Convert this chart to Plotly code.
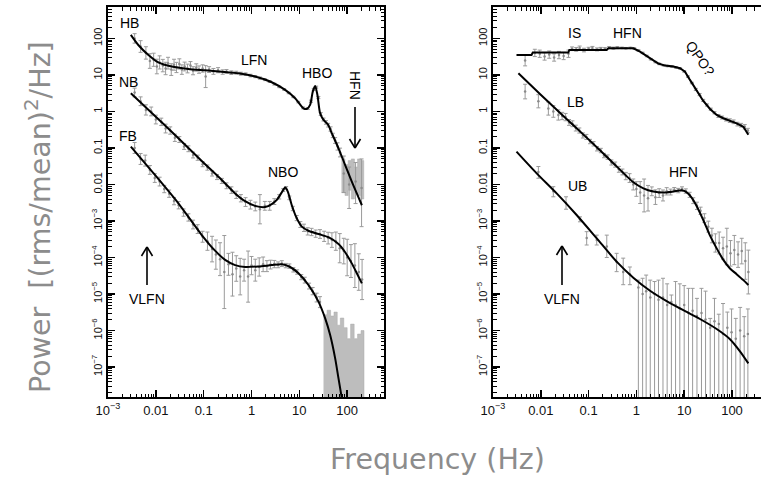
import plotly.graph_objects as go

W, H = 761, 478

# ---------------- LEFT PANEL ----------------
# model curves (frequency Hz, power)
hb_model_f = [0.0030, 0.0043, 0.0070, 0.0113, 0.0215, 0.048, 0.107, 0.239, 0.533, 1.19, 2.65, 5.05,
              8.17, 12.2, 14.3, 16.8, 19.1, 21.4, 23.9, 27.2, 32, 39.4, 47.8, 65.9, 90.8, 125, 159, 203]
hb_model_p = [125, 66, 35, 22, 16.9, 14.6, 13.4, 12.3, 11.1, 9.0, 6.3, 3.88,
              2.30, 1.22, 1.17, 1.51, 3.49, 5.0, 2.83, 0.89, 0.585, 0.445, 0.252, 0.098, 0.034, 0.012, 0.0057, 0.0027]

nb_model_f = [0.0030, 0.0096, 0.0296, 0.0912, 0.239, 0.454, 0.735, 1.19, 1.93, 2.65, 3.38, 4.30, 5.05,
              5.74, 6.95, 8.85, 11.3, 15.5, 25.1, 40.6, 65.9, 90.8, 125, 159, 203]
nb_model_p = [3.15, 0.753, 0.184, 0.044, 0.0133, 0.0057, 0.0035, 0.0026, 0.0024, 0.0029, 0.0038, 0.0061, 0.0082,
              0.0064, 0.0027, 0.00118, 0.0007, 0.00054, 0.00044, 0.00036, 0.000234, 0.000139, 6.9e-5, 3.7e-5, 1.96e-5]

fb_model_f = [0.0030, 0.0096, 0.0296, 0.0912, 0.173, 0.281, 0.454, 0.735, 1.40, 2.65, 4.30, 6.42, 9.6,
              15.5, 25.1, 34.7, 44.1, 56.1, 65.9, 77.3]
fb_model_p = [0.109, 0.0182, 0.00305, 0.000413, 0.000154, 8.6e-5, 6.2e-5, 5.5e-5, 5.7e-5, 6.2e-5, 6.5e-5, 5.5e-5, 3.7e-5,
              1.77e-5, 6.2e-6, 2.15e-6, 7.5e-7, 1.73e-7, 4.9e-8, 1.4e-8]

# data points (frequency, power, error in dex)
hb_f = [0.0036, 0.0048, 0.0062, 0.0075, 0.009, 0.0105, 0.012, 0.014, 0.016, 0.018, 0.021, 0.024, 0.027, 0.031,
        0.035, 0.04, 0.046, 0.053, 0.06, 0.07, 0.08, 0.095, 0.11, 0.13, 0.16, 0.2, 0.25, 0.3, 0.38, 0.48, 0.6,
        0.75, 0.95, 1.2, 1.5, 1.9, 2.4, 3.0, 3.8, 4.8, 6.0, 7.5, 9.5, 12, 15, 17.5, 20, 22.5, 25, 28, 32, 36,
        40, 45, 50, 56, 63, 71]
hb_p = [100, 60, 40, 24, 26, 17, 22, 18, 15, 21, 14, 19, 16, 20,
        14, 17, 15, 18, 13, 16, 14, 15, 9, 14, 12.5, 13.5, 12, 12.5, 11.5, 11.5, 10.8,
        10.5, 9.6, 9.0, 8.2, 7.4, 6.6, 5.6, 4.7, 4.0, 3.2, 2.5, 1.8, 1.25, 1.2, 1.9, 4.0, 4.6, 2.4, 0.85, 0.6, 0.5,
        0.42, 0.33, 0.22, 0.16, 0.11, 0.075]
hb_d = [0.13, 0.16, 0.17, 0.2, 0.18, 0.2, 0.18, 0.17, 0.17, 0.16, 0.16, 0.15, 0.14, 0.14,
        0.13, 0.12, 0.12, 0.11, 0.11, 0.1, 0.1, 0.1, 0.3, 0.08, 0.08, 0.07, 0.06, 0.05, 0.05, 0.04, 0.04,
        0.035, 0.035, 0.03, 0.03, 0.025, 0.025, 0.025, 0.02, 0.02, 0.02, 0.02, 0.02, 0.025, 0.025, 0.03, 0.03, 0.03,
        0.03, 0.04, 0.04, 0.05, 0.05, 0.06, 0.06, 0.08, 0.1, 0.12]

hb_hf_edges = [76, 90, 105, 122, 142, 165, 192, 222]
hb_hf_lo = [0.006, 0.005, 0.007, 0.004, 0.006, 0.005, 0.004]
hb_hf_hi = [0.05, 0.035, 0.045, 0.05, 0.03, 0.05, 0.045]
hb_hf_f = [85, 110, 150, 200]
hb_hf_p = [0.02, 0.01, 0.012, 0.008]
hb_hf_lo_pt = [0.006, 0.0022, 0.003, 0.0007]
hb_hf_hi_pt = [0.06, 0.03, 0.04, 0.05]

nb_f = [0.0036, 0.0048, 0.0062, 0.008, 0.01, 0.013, 0.016, 0.02, 0.025, 0.031, 0.039, 0.048, 0.06, 0.075,
        0.095, 0.12, 0.15, 0.19, 0.24, 0.3, 0.38, 0.48, 0.6, 0.75, 0.95, 1.2, 1.5, 1.9, 2.4, 3.0, 3.8, 4.6,
        5.3, 6.2, 7.3, 8.8, 10.5, 12.5, 15, 18, 22, 27, 33, 40, 48, 58, 70, 85, 100, 120, 145, 175, 205]
nb_p = [3.3, 1.9, 1.1, 1.0, 0.6, 0.52, 0.34, 0.3, 0.19, 0.17, 0.11, 0.095, 0.064, 0.054,
        0.036, 0.029, 0.02, 0.016, 0.0125, 0.0092, 0.007, 0.0052, 0.0042, 0.0033, 0.0028, 0.0025, 0.0021, 0.0026,
        0.0026, 0.0034, 0.0046, 0.007, 0.008, 0.0043, 0.0022, 0.0012, 0.0008, 0.00065, 0.00052, 0.0005, 0.00045,
        0.00044, 0.00038, 0.00034, 0.0003, 0.00028, 0.00018, 0.00015, 0.0001, 8e-5, 6e-5, 4e-5, 2.5e-5]
nb_d = [0.12, 0.12, 0.14, 0.12, 0.12, 0.1, 0.12, 0.1, 0.1, 0.08, 0.08, 0.08, 0.08, 0.07,
        0.07, 0.07, 0.07, 0.07, 0.07, 0.08, 0.09, 0.1, 0.1, 0.12, 0.12, 0.12, 0.4, 0.12, 0.12, 0.08,
        0.06, 0.04, 0.04, 0.05, 0.06, 0.07, 0.08, 0.1, 0.1, 0.1, 0.1, 0.12, 0.14, 0.16, 0.2,
        0.25, 0.4, 0.35, 0.5, 0.45, 0.6, 0.5, 0.55]

fb_f = [0.0036, 0.0048, 0.006, 0.0075, 0.0095, 0.012, 0.015, 0.019, 0.024, 0.03, 0.038, 0.048, 0.06, 0.075,
        0.095, 0.12, 0.15, 0.18, 0.22, 0.27, 0.33, 0.4, 0.48, 0.58, 0.7, 0.85, 1.0, 1.2, 1.45, 1.75, 2.1, 2.5,
        3.0, 3.6, 4.3, 5.2, 6.2, 7.5, 9.0, 11, 13, 16, 19, 23, 27]
fb_p = [0.1, 0.05, 0.045, 0.025, 0.015, 0.012, 0.0075, 0.0056, 0.0035, 0.0027, 0.0017, 0.00125, 0.0008, 0.0006,
        0.00037, 0.00028, 0.00017, 0.00012, 9e-5, 4e-5, 6.5e-5, 3.5e-5, 5e-5, 3e-5, 4.5e-5, 3e-5, 6e-5, 4.5e-5,
        5.5e-5, 6.5e-5, 5.8e-5, 6.4e-5, 6.6e-5, 6.3e-5, 6.8e-5, 6e-5, 5.8e-5, 4.6e-5, 4e-5, 2.9e-5, 2.4e-5,
        1.65e-5, 1.2e-5, 8e-6, 6e-6]
fb_d = [0.15, 0.15, 0.15, 0.12, 0.12, 0.12, 0.1, 0.1, 0.1, 0.1, 0.1, 0.1, 0.12, 0.12,
        0.15, 0.25, 0.35, 0.4, 0.45, 1.0, 0.3, 0.6, 0.35, 0.5, 0.3, 0.7, 0.25, 0.3, 0.25, 0.2, 0.15, 0.12,
        0.1, 0.08, 0.08, 0.06, 0.06, 0.06, 0.06, 0.07, 0.08, 0.08, 0.1, 0.12, 0.15]

fb_hf_edges = [32, 38, 45, 53, 62, 72, 85, 100, 118, 140, 165, 195, 225]
fb_hf_top = [2.7e-6, 3.6e-6, 2.5e-6, 3.2e-6, 1.4e-6, 2.2e-6, 1.2e-6, 6e-7, 1.5e-6, 6e-7, 8e-7, 1.0e-6]

# ---------------- RIGHT PANEL ----------------
is_model_f = [0.0031, 0.0064, 0.0068, 0.0377, 0.0395, 0.239, 0.259, 0.863, 1.19, 1.93, 2.88, 3.96, 5.93,
              8.17, 10.4, 13.2, 18.2, 25.1, 34.7, 47.8, 65.9, 90.8, 125, 173, 220]
is_model_p = [35.3, 35.3, 41, 41, 48.4, 48.4, 53.8, 53.8, 43.6, 28.6, 20.5, 18.0, 16.9,
              15.2, 12.3, 7.3, 3.65, 1.94, 1.17, 0.80, 0.65, 0.56, 0.47, 0.38, 0.23]

lb_model_f = [0.0034, 0.0096, 0.0296, 0.0912, 0.281, 0.863, 1.40, 2.26, 3.66, 5.93, 8.85, 11.3, 14.3,
              18.2, 25.1, 34.7, 47.8, 65.9, 90.8, 125, 173, 220]
lb_model_p = [11.1, 3.01, 0.753, 0.192, 0.047, 0.0115, 0.00785, 0.0064, 0.006, 0.0064, 0.0069, 0.0061, 0.00436,
              0.00258, 0.00106, 0.000396, 0.000178, 8.6e-5, 5.0e-5, 3.5e-5, 2.4e-5, 1.77e-5]

ub_model_f = [0.0031, 0.0082, 0.0215, 0.0562, 0.148, 0.386, 0.863, 1.93, 4.30, 9.6, 21.4, 47.8, 90.8, 147, 220]
ub_model_p = [0.0794, 0.0202, 0.0057, 0.00146, 0.000335, 7.7e-5, 2.8e-5, 1.23e-5, 6.4e-6, 3.6e-6, 2.07e-6,
              1.1e-6, 5.8e-7, 2.7e-7, 1.26e-7]

is_f = [0.0047, 0.0075, 0.0095, 0.012, 0.015, 0.019, 0.024, 0.03, 0.038, 0.045, 0.055, 0.065, 0.08, 0.1,
        0.12, 0.15, 0.18, 0.22, 0.27, 0.33, 0.4, 0.5, 0.6, 0.75, 0.9, 1.1, 1.35, 1.65, 2.0, 2.5, 3.0, 3.7,
        4.5, 5.5, 6.7, 8.2, 10, 12, 14.5, 17.5, 21, 25, 30, 36, 43, 52, 62, 75, 90, 108, 130, 155, 185, 215]
is_p = [25, 40, 38, 32, 36, 30, 35, 33, 38, 52, 50, 55, 48, 52,
        55, 50, 53, 52, 56, 54, 56, 55, 54, 55, 53, 47, 40, 33, 27, 22.5, 20, 18.5,
        17.5, 17, 16, 15, 12.5, 9, 6, 4, 2.9, 2.0, 1.5, 1.15, 0.92, 0.75, 0.68, 0.6, 0.56, 0.52, 0.45, 0.42,
        0.38, 0.3]
is_d = [0.15, 0.1, 0.1, 0.1, 0.1, 0.1, 0.1, 0.1, 0.1, 0.05, 0.05, 0.05, 0.05, 0.04,
        0.04, 0.04, 0.03, 0.03, 0.03, 0.03, 0.03, 0.02, 0.02, 0.02, 0.02, 0.02, 0.02, 0.02, 0.02, 0.02, 0.02,
        0.02, 0.02, 0.02, 0.02, 0.02, 0.02, 0.02, 0.02, 0.03, 0.03, 0.03, 0.03, 0.03, 0.03, 0.04, 0.04, 0.04,
        0.05, 0.05, 0.05, 0.05, 0.06, 0.06]

lb_f = [0.0047, 0.0089, 0.0144, 0.0183, 0.0233, 0.028, 0.033, 0.039, 0.046, 0.054, 0.064, 0.076, 0.09, 0.107,
        0.127, 0.15, 0.18, 0.21, 0.25, 0.3, 0.36, 0.43, 0.51, 0.6, 0.72, 0.86, 1.0, 1.2, 1.45, 1.75, 2.1, 2.5,
        3.0, 3.6, 4.3, 5.2, 6.2, 7.5, 9.0, 10.8, 13, 15.5, 18.5, 22, 26.5, 32, 38, 45, 54, 65, 78, 93, 112,
        134, 160, 190, 220]
lb_p = [3.5, 1.9, 1.2, 1.0, 0.8, 0.75, 0.7, 0.5, 0.46, 0.35, 0.3, 0.22, 0.2, 0.15,
        0.13, 0.095, 0.085, 0.062, 0.056, 0.04, 0.035, 0.026, 0.022, 0.017, 0.015, 0.01, 0.0075, 0.006, 0.005,
        0.0042, 0.0065, 0.0045, 0.0058, 0.005, 0.0065, 0.0062, 0.0072, 0.0068, 0.0075, 0.0066, 0.0052, 0.0036,
        0.0026, 0.0019, 0.0012, 0.0007, 0.0004, 0.00025, 0.00025, 0.00018, 0.0002, 0.00013, 0.00016, 0.00012,
        0.00015, 8e-5, 4e-5]
lb_d = [0.2, 0.18, 0.18, 0.16, 0.14, 0.1, 0.1, 0.08, 0.08, 0.08, 0.07, 0.07, 0.07, 0.06,
        0.06, 0.06, 0.06, 0.06, 0.06, 0.07, 0.07, 0.08, 0.08, 0.1, 0.12, 0.15, 0.2, 0.3, 0.45, 0.35, 0.12, 0.2,
        0.12, 0.15, 0.1, 0.08, 0.06, 0.06, 0.06, 0.06, 0.07, 0.08, 0.1, 0.1, 0.12, 0.15, 0.2, 0.25, 0.3, 0.3,
        0.5, 0.35, 0.4, 0.35, 0.35, 0.5, 0.6]

ub_f = [0.0089, 0.0183, 0.0337, 0.066, 0.0912, 0.148, 0.24, 0.386, 0.53, 0.73, 1.1, 1.35, 1.6, 1.95, 2.4,
        2.9, 3.6, 4.4, 5.4, 6.6, 8.1, 10, 12.3, 15, 18.5, 23, 28, 35, 43, 53, 65, 80, 98, 120, 148, 180, 215]
ub_p = [0.022, 0.0065, 0.0031, 0.0011, 0.00034, 0.0003, 0.0002, 7.5e-5, 4e-5, 3.5e-5, 1.5e-5, 1.0e-5, 1.2e-5,
        8e-6, 1e-5, 7e-6, 8e-6, 5e-6, 6e-6, 5e-6, 4e-6, 5e-6, 3e-6, 3.5e-6, 2.5e-6, 3e-6, 2e-6, 1.2e-6, 1.8e-6,
        1.5e-6, 8e-7, 1.2e-6, 9e-7, 6e-7, 1e-6, 7e-7, 8e-7]
ub_hi = [0.031, 0.0087, 0.0046, 0.0013, 0.00051, 0.00041, 0.00041, 0.00013, 9.6e-5, 5.5e-5, 2.4e-5, 2.7e-5,
         3.3e-5, 2.4e-5, 2.2e-5, 2.4e-5, 2.7e-5, 1.9e-5, 9.4e-6, 2.2e-5, 1.9e-5, 1.7e-5, 1.43e-5, 1.43e-5,
         7.6e-6, 1.43e-5, 1.2e-5, 2.15e-6, 7.6e-6, 2.8e-6, 5.5e-6, 3.2e-6, 3.9e-6, 2.15e-6, 4.3e-6, 2.4e-6, 3.9e-6]
ub_lo = [0.0148, 0.0046, 0.0021, 0.00095, 0.00022, 0.00022, 0.0001, 4.1e-5, 1.8e-5, 1.8e-5] + [None] * 27

# tick labels
x_tickvals = [0.001, 0.01, 0.1, 1, 10, 100]
x_ticktext = ["10<sup>−3</sup>", "0.01", "0.1", "1", "10", "100"]
y_tickvals = [1e-7, 1e-6, 1e-5, 1e-4, 1e-3, 0.01, 0.1, 1, 10, 100]
y_ticktext = ["10<sup>−7</sup>", "10<sup>−6</sup>", "10<sup>−5</sup>", "10<sup>−4</sup>", "10<sup>−3</sup>",
              "0.01", "0.1", "1", "10", "100"]

# ---------------- styling ----------------
ERR_COL = "#9a9a9a"
FILL_COL = "#bdbdbd"
FLOOR = 1e-12


def dex_bounds(p, d):
    lo = [v / 10 ** e for v, e in zip(p, d)]
    hi = [v * 10 ** e for v, e in zip(p, d)]
    return lo, hi


def data_trace(f, p, lo, hi, xa, ya):
    lo = [FLOOR if v is None else v for v in lo]
    return go.Scatter(
        x=f, y=p, mode="markers", xaxis=xa, yaxis=ya, showlegend=False, hoverinfo="skip",
        marker=dict(size=2.5, color="#8a8a8a"),
        error_y=dict(type="data", symmetric=False,
                     array=[h - v for v, h in zip(p, hi)],
                     arrayminus=[v - l for v, l in zip(p, lo)],
                     color=ERR_COL, thickness=1, width=2),
    )


def model_trace(f, p, xa, ya, shape="spline"):
    return go.Scatter(x=f, y=p, mode="lines", xaxis=xa, yaxis=ya, showlegend=False, hoverinfo="skip",
                      line=dict(color="black", width=2, shape=shape, smoothing=0.7 if shape == "spline" else None))


def step_band(edges, lo, hi, xa, ya):
    xs, ys = [], []
    for i in range(len(hi)):
        xs += [edges[i], edges[i + 1]]
        ys += [hi[i], hi[i]]
    for i in reversed(range(len(lo))):
        xs += [edges[i + 1], edges[i]]
        ys += [lo[i], lo[i]]
    return go.Scatter(x=xs, y=ys, mode="lines", fill="toself", fillcolor=FILL_COL, hoverinfo="skip",
                      line=dict(width=0.5, color="#aaaaaa"), xaxis=xa, yaxis=ya, showlegend=False)


fig = go.Figure()

# left panel
fig.add_trace(step_band(fb_hf_edges, [1e-10] * len(fb_hf_top), fb_hf_top, "x", "y"))
fig.add_trace(step_band(hb_hf_edges, hb_hf_lo, hb_hf_hi, "x", "y"))
lo, hi = dex_bounds(hb_p, hb_d)
fig.add_trace(data_trace(hb_f, hb_p, lo, hi, "x", "y"))
fig.add_trace(data_trace(hb_hf_f, hb_hf_p, hb_hf_lo_pt, hb_hf_hi_pt, "x", "y"))
lo, hi = dex_bounds(nb_p, nb_d)
fig.add_trace(data_trace(nb_f, nb_p, lo, hi, "x", "y"))
lo, hi = dex_bounds(fb_p, fb_d)
fig.add_trace(data_trace(fb_f, fb_p, lo, hi, "x", "y"))
fig.add_trace(model_trace(hb_model_f, hb_model_p, "x", "y"))
fig.add_trace(model_trace(nb_model_f, nb_model_p, "x", "y"))
fig.add_trace(model_trace(fb_model_f, fb_model_p, "x", "y"))

# right panel
lo, hi = dex_bounds(is_p, is_d)
fig.add_trace(data_trace(is_f, is_p, lo, hi, "x2", "y2"))
lo, hi = dex_bounds(lb_p, lb_d)
fig.add_trace(data_trace(lb_f, lb_p, lo, hi, "x2", "y2"))
fig.add_trace(data_trace(ub_f, ub_p, ub_lo, ub_hi, "x2", "y2"))
fig.add_trace(model_trace(is_model_f, is_model_p, "x2", "y2", shape="linear"))
fig.add_trace(model_trace(lb_model_f, lb_model_p, "x2", "y2"))
fig.add_trace(model_trace(ub_model_f, ub_model_p, "x2", "y2"))

minor_vals = [m * 10.0 ** k for k in range(-9, 4) for m in range(2, 10)]
TICKFONT = dict(family="Liberation Sans, Arial, sans-serif", size=13, color="#111111")
YTICKFONT = dict(family="Liberation Sans, Arial, sans-serif", size=11, color="#111111")

Y_DOM = [1 - 397 / H, 1 - 7 / H]
Y_RANGE = [-7.82, 2.86]


def xaxis_cfg(domain, rng, anchor):
    return dict(type="log", domain=domain, range=rng, anchor=anchor, automargin=False,
                tickmode="array", tickvals=x_tickvals, ticktext=x_ticktext,
                ticks="inside", ticklen=7, tickwidth=1.5, tickcolor="black",
                minor=dict(tickmode="array", tickvals=minor_vals, ticks="inside", ticklen=3.5,
                           tickwidth=1, tickcolor="black", showgrid=False),
                showline=True, linewidth=2, linecolor="black", mirror="ticks",
                showgrid=False, zeroline=False, tickfont=TICKFONT)


def yaxis_cfg(anchor, mirror):
    return dict(type="log", domain=Y_DOM, range=Y_RANGE, anchor=anchor, automargin=False,
                tickmode="array", tickvals=y_tickvals, ticktext=y_ticktext, tickangle=-90,
                ticks="inside", ticklen=7, tickwidth=1.5, tickcolor="black",
                minor=dict(tickmode="array", tickvals=minor_vals, ticks="inside", ticklen=3.5,
                           tickwidth=1, tickcolor="black", showgrid=False),
                showline=True, linewidth=2, linecolor="black", mirror=mirror,
                showgrid=False, zeroline=False, tickfont=YTICKFONT)


fig.update_layout(
    width=W, height=H, autosize=False,
    margin=dict(l=0, r=0, t=0, b=0, pad=0),
    paper_bgcolor="white", plot_bgcolor="white",
    showlegend=False, hovermode=False,
    xaxis=xaxis_cfg([108 / W, 384 / W], [-3, 2.77], "y"),
    yaxis=yaxis_cfg("x", "ticks"),
    xaxis2=xaxis_cfg([493 / W, 1.0], [-3, 2.607], "y2"),
    yaxis2=yaxis_cfg("x2", False),
)


def px(x):
    return x / W


def py(y):
    return 1 - y / H


LABEL_FONT = dict(family="Liberation Sans, Arial, sans-serif", size=14, color="black")
labels = [
    ("HB", 129, 23, 0), ("NB", 128, 82, 0), ("FB", 128, 136, 0), ("LFN", 254, 60, 0),
    ("HBO", 317, 73, 0), ("HFN", 355, 85, 90), ("NBO", 283, 172, 0), ("VLFN", 147, 299, 0),
    ("IS", 574, 33, 0), ("HFN", 627, 33, 0), ("QPO?", 700, 58, 55), ("LB", 575, 102, 0),
    ("HFN", 683, 172, 0), ("UB", 577, 186, 0), ("VLFN", 562, 299, 0),
]
annotations = []
for text, x, y, ang in labels:
    annotations.append(dict(text=text, x=px(x), y=py(y), xref="paper", yref="paper", showarrow=False,
                            textangle=ang, font=LABEL_FONT, xanchor="center", yanchor="middle"))

TITLE_FONT = dict(family="DejaVu Sans, sans-serif", size=28.5, color="#8c8c8c")
annotations.append(dict(text="Frequency (Hz)", x=px(437), y=py(459), xref="paper", yref="paper",
                        showarrow=False, font=TITLE_FONT, xanchor="center", yanchor="middle"))
annotations.append(dict(text="Power  [(rms/mean)<sup>2</sup>/Hz]", x=px(38), y=py(217), xref="paper",
                        yref="paper", showarrow=False, font=TITLE_FONT, textangle=-90,
                        xanchor="center", yanchor="middle"))

shapes = []


def arrow(x, y_tail, y_tip):
    d = 1 if y_tip > y_tail else -1  # +1 pointing down
    line = dict(color="black", width=1.6)
    shapes.append(dict(type="line", xref="paper", yref="paper", x0=px(x), y0=py(y_tail), x1=px(x), y1=py(y_tip),
                       line=line))
    for s in (-1, 1):
        shapes.append(dict(type="line", xref="paper", yref="paper", x0=px(x + s * 5.5), y0=py(y_tip - d * 9),
                           x1=px(x), y1=py(y_tip), line=line))


arrow(355, 107, 148)
arrow(147, 285, 247)
arrow(562, 285, 246)

fig.update_layout(annotations=annotations, shapes=shapes)

fig.write_html("out.html", config={"displayModeBar": False, "staticPlot": True},
               post_script="document.body.style.margin='0';document.body.style.overflow='hidden';")
